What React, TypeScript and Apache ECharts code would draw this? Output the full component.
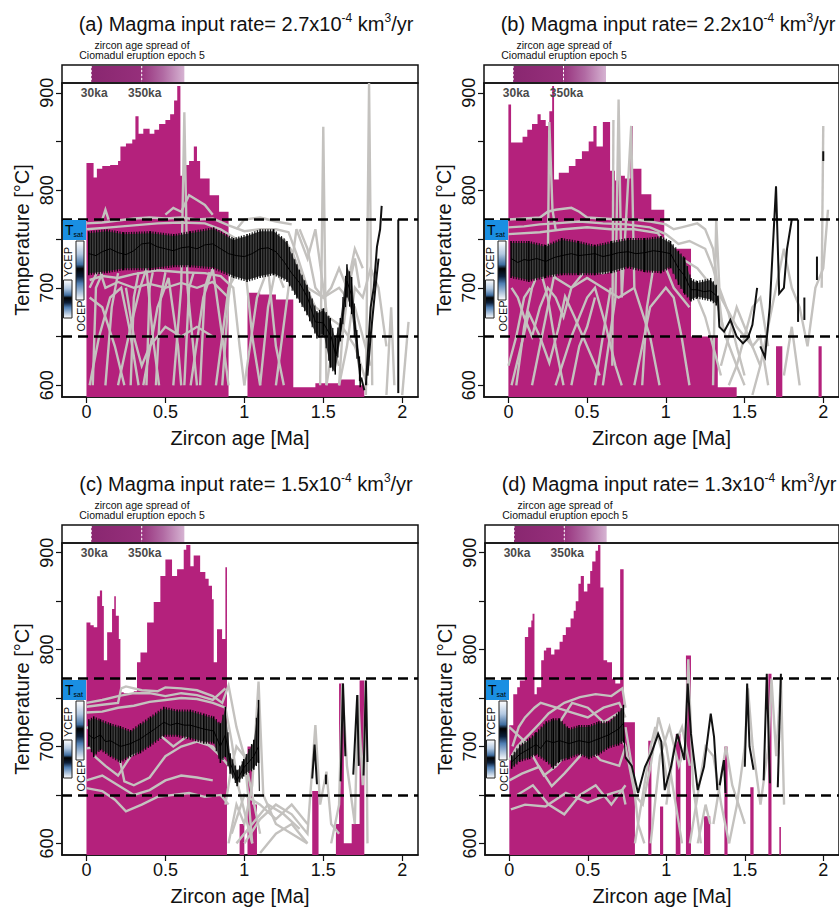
import React, { useEffect, useRef } from 'react';
import * as echarts from 'echarts';

const FONT = 'Liberation Sans, Arial, Helvetica, sans-serif';
const MAGENTA = '#b4217c';
const GRAY = '#c4c2bf';

const panelLetters = ['a', 'b', 'c', 'd'];
const inputRates = ['2.7', '2.2', '1.5', '1.3'];
const xTicks = [0, 0.5, 1, 1.5, 2];
const yTicks = [600, 650, 700, 750, 800, 850, 900];
const yLabels = [600, 700, 800, 900];
const tSatBounds = [650, 770];
const spreadAges = [0.03, 0.35, 0.62];
const spreadLabels = ['30ka', '350ka'];
const X_MIN = -0.155, X_MAX = 2.1, Y_MIN = 588, Y_MAX = 910;

// ---------- panel (a) ----------
const histA = [[0,828],[0.045,813],[0.066,822],[0.1,825],[0.15,826],[0.2,830],[0.215,845],[0.25,848],[0.29,852],[0.31,876],[0.33,858],[0.36,863],[0.4,858],[0.43,862],[0.46,868],[0.5,872],[0.53,878],[0.555,892],[0.575,907],[0.595,815],[0.62,826],[0.65,830],[0.68,845],[0.7,830],[0.72,812],[0.78,795],[0.84,778],[0.9,588],[1.02,695],[1.1,693],[1.2,688],[1.31,598],[1.45,602],[1.6,606],[1.7,600],[1.76,588]];
const errA = [[0.015,715,756],[0.13,717,758],[0.236,720,755],[0.405,720,756],[0.553,723,753],[0.658,723,756],[0.806,721,760],[0.932,712,749],[1.017,708,753],[1.1,712,758],[1.186,715,758],[1.27,708,746],[1.333,691,722],[1.397,674,701],[1.46,650,674],[1.502,653,677],[1.544,620,667],[1.576,613,647],[1.608,647,667],[1.65,692,722],[1.68,675,709],[1.734,600,620]];
const meanA = [[0.015,735],[0.06,733],[0.1,737],[0.15,740],[0.2,736],[0.25,734],[0.3,738],[0.35,745],[0.4,746],[0.45,742],[0.5,740],[0.55,738],[0.6,741],[0.65,742],[0.7,740],[0.75,744],[0.8,745],[0.85,740],[0.9,735],[0.95,733],[1.0,732],[1.05,735],[1.1,740],[1.15,741],[1.2,737],[1.25,727],[1.3,715],[1.35,705],[1.4,690],[1.45,665],[1.5,664],[1.55,650],[1.58,630],[1.61,655],[1.65,707],[1.68,692],[1.71,650],[1.734,610]];
const blackA = [
  [[1.74,608],[1.76,595]],
  [[1.77,600],[1.8,680],[1.82,700],[1.84,742],[1.86,760],[1.87,784]],
  [[1.78,610],[1.8,650],[1.83,700],[1.85,730]],
  [[1.975,592],[1.975,770]],
];
const grayA = [
  [[0,766],[0.1,767],[0.2,769],[0.3,771],[0.4,772],[0.5,771],[0.6,772],[0.7,770],[0.8,771],[0.9,764],[1.0,758],[1.1,760],[1.2,760],[1.28,757],[1.33,735],[1.4,700],[1.5,690],[1.6,700],[1.7,680],[1.8,620]],
  [[0,760],[0.15,762],[0.3,764],[0.45,766],[0.6,767],[0.75,766],[0.85,760],[0.95,750],[1.05,752],[1.15,754],[1.25,750],[1.3,738],[1.38,705],[1.45,680],[1.55,668],[1.62,660],[1.7,640],[1.78,600]],
  [[0.02,708],[0.1,712],[0.2,710],[0.3,714],[0.45,718],[0.6,716],[0.75,715],[0.85,712],[0.93,700],[0.97,640],[1.0,600]],
  [[0.02,700],[0.08,720],[0.12,700],[0.2,706],[0.3,700],[0.4,704],[0.5,700],[0.6,705],[0.7,700],[0.8,706],[0.9,690]],
  [[0.02,600],[0.08,650],[0.15,690],[0.22,700],[0.27,660],[0.33,600]],
  [[0.02,690],[0.1,680],[0.18,640],[0.24,600]],
  [[0.2,600],[0.28,660],[0.34,700],[0.38,720],[0.42,650],[0.46,600]],
  [[0.36,600],[0.45,680],[0.52,710],[0.58,640],[0.6,600]],
  [[0.55,600],[0.6,700],[0.62,880],[0.64,700],[0.7,600]],
  [[0.66,600],[0.74,690],[0.8,720],[0.86,650],[0.9,600]],
  [[0.82,600],[0.9,700],[1.0,730],[1.05,650],[1.1,600]],
  [[1.0,600],[1.08,690],[1.15,720],[1.2,640],[1.25,600]],
  [[1.2,600],[1.28,700],[1.33,760],[1.4,730],[1.45,760],[1.5,700],[1.55,640]],
  [[1.48,600],[1.5,865],[1.52,600]],
  [[1.77,590],[1.79,910],[1.81,600]],
  [[1.6,600],[1.65,640],[1.7,700],[1.75,690],[1.8,720],[1.85,700],[1.9,640]],
  [[1.9,590],[1.93,680],[1.95,600]],
  [[2.0,590],[2.04,665]],
  [[0.1,770],[0.12,780],[0.14,770]],
  [[0.5,775],[0.55,782],[0.6,778],[0.65,795],[0.7,790],[0.75,785],[0.8,775]],
  [[0.04,600],[0.06,700],[0.1,715]],
  [[0.12,600],[0.16,680],[0.2,715]],
  [[0.28,600],[0.3,690],[0.33,716]],
  [[0.38,600],[0.4,700],[0.42,716]],
  [[0.44,600],[0.47,690],[0.5,716]],
  [[0.62,600],[0.65,700],[0.68,716]],
  [[0.72,600],[0.75,700],[0.78,716]],
  [[0.86,600],[0.9,690],[0.92,712]],
  [[0.25,700],[0.3,650],[0.35,620],[0.4,640],[0.5,660],[0.6,650],[0.7,660],[0.8,650]],
  [[0.95,760],[1.0,770],[1.1,772],[1.2,768],[1.3,765]],
  [[1.1,600],[1.15,680],[1.2,720],[1.25,700]],
  [[1.35,760],[1.4,740],[1.45,700],[1.5,690],[1.55,700],[1.6,720],[1.65,700],[1.7,740],[1.75,720]],
  [[1.6,600],[1.62,650],[1.66,700],[1.7,730],[1.73,700]],
  [[1.52,600],[1.56,640],[1.6,620]],
];

// ---------- panel (b) ----------
const histB = [[0,888],[0.017,849],[0.09,855],[0.12,862],[0.15,868],[0.185,878],[0.205,872],[0.237,866],[0.26,881],[0.278,907],[0.29,811],[0.32,818],[0.384,825],[0.426,832],[0.467,840],[0.51,850],[0.54,866],[0.56,845],[0.6,870],[0.646,820],[0.677,810],[0.7,815],[0.74,812],[0.775,866],[0.79,822],[0.845,796],[0.908,780],[0.99,740],[1.16,650],[1.33,598],[1.45,588],[1.7,640],[1.74,588],[1.97,640],[1.99,588]];
const errB = [[0.017,712,746],[0.13,708,746],[0.237,712,742],[0.34,715,749],[0.446,715,746],[0.55,715,742],[0.656,717,746],[0.76,722,749],[0.866,718,749],[0.97,717,751],[1.03,722,746],[1.08,705,736],[1.12,695,729],[1.16,688,708],[1.2,691,705],[1.285,688,708],[1.32,684,701]];
const meanB = [[0.017,730],[0.06,726],[0.1,729],[0.13,728],[0.18,730],[0.237,727],[0.29,731],[0.34,733],[0.4,735],[0.446,733],[0.5,734],[0.55,735],[0.6,732],[0.656,734],[0.7,736],[0.76,737],[0.81,735],[0.866,736],[0.92,738],[0.97,737],[1.03,735],[1.08,720],[1.12,712],[1.16,698],[1.2,698],[1.24,696],[1.285,697],[1.32,692]];
const blackB = [
  [[1.33,692],[1.34,660],[1.37,655],[1.41,667],[1.45,650],[1.49,643],[1.52,648],[1.55,662],[1.58,700]],
  [[1.6,640],[1.63,629],[1.66,680],[1.7,804],[1.72,694],[1.75,700],[1.77,740],[1.8,770]],
  [[1.84,665],[1.84,770]],
  [[1.88,690],[1.88,667]],
  [[1.96,732],[1.96,708]],
  [[2.0,830],[2.0,840]],
];
const grayB = [
  [[0,770],[0.1,771],[0.2,772],[0.25,778],[0.3,780],[0.4,782],[0.45,778],[0.5,772],[0.6,771],[0.7,770],[0.8,770],[0.9,768],[1.0,765],[1.05,760],[1.1,762],[1.2,766],[1.25,760],[1.3,740],[1.33,700],[1.36,660]],
  [[0,762],[0.1,763],[0.2,765],[0.3,766],[0.45,768],[0.6,766],[0.75,765],[0.9,762],[1.0,755],[1.08,745],[1.15,748],[1.25,740],[1.3,720],[1.35,690],[1.45,660],[1.55,640],[1.6,620]],
  [[0,755],[0.2,757],[0.35,760],[0.5,762],[0.65,760],[0.8,760],[0.95,756],[1.0,745],[1.1,730],[1.2,720],[1.3,700],[1.38,650],[1.45,620],[1.5,600]],
  [[0.02,700],[0.06,690],[0.1,670],[0.15,650],[0.2,680],[0.25,700],[0.3,690],[0.35,670],[0.4,700],[0.5,710],[0.6,700],[0.7,690],[0.8,700]],
  [[0.02,600],[0.08,640],[0.13,674],[0.2,650],[0.26,623],[0.32,660],[0.36,691],[0.42,670],[0.5,640],[0.58,610]],
  [[0.05,600],[0.1,660],[0.15,700],[0.2,720],[0.25,690],[0.3,640],[0.35,600]],
  [[0.3,600],[0.4,650],[0.5,690],[0.55,700],[0.62,660],[0.68,620],[0.72,600]],
  [[0.6,600],[0.68,690],[0.7,893],[0.72,690],[0.78,866],[0.8,700],[0.9,650],[0.96,600]],
  [[0.66,620],[0.667,872]],
  [[0.8,600],[0.9,680],[1.0,700],[1.05,690],[1.1,650],[1.15,600]],
  [[1.3,600],[1.32,770],[1.34,700],[1.4,673],[1.45,640],[1.5,610]],
  [[1.35,620],[1.4,650],[1.45,680],[1.5,660],[1.55,640],[1.6,650],[1.65,600]],
  [[1.55,590],[1.6,620],[1.7,700],[1.75,740],[1.8,700],[1.85,680],[1.9,640],[1.95,700],[2.0,720],[2.03,780]],
  [[1.99,700],[2.0,866]],
  [[0.25,720],[0.26,870],[0.28,780],[0.3,760]],
  [[1.75,610],[1.8,660],[1.85,600]],
  [[0.0,620],[0.05,650],[0.1,690],[0.14,700]],
  [[0.15,600],[0.2,640],[0.25,680],[0.3,720]],
  [[0.4,600],[0.45,640],[0.5,660],[0.55,690]],
  [[0.55,600],[0.6,650],[0.65,700]],
  [[0.85,600],[0.88,680],[0.92,720]],
  [[0.1,720],[0.2,730],[0.3,710],[0.4,700],[0.5,720],[0.6,715],[0.7,720],[0.8,730],[0.9,725]],
  [[1.0,720],[1.05,700],[1.1,690],[1.15,680]],
  [[1.15,700],[1.2,690],[1.25,670],[1.3,640],[1.35,610]],
  [[1.4,600],[1.45,620],[1.5,650],[1.55,680],[1.6,690],[1.65,640]],
];

// ---------- panel (c) ----------
const histC = [[0,828],[0.025,825],[0.046,823],[0.068,855],[0.085,861],[0.099,845],[0.11,789],[0.131,818],[0.162,842],[0.176,855],[0.186,835],[0.205,811],[0.215,756],[0.236,755],[0.3,757],[0.32,787],[0.342,797],[0.384,828],[0.426,849],[0.468,876],[0.5,893],[0.542,876],[0.574,883],[0.616,903],[0.632,908],[0.658,886],[0.679,897],[0.72,880],[0.753,873],[0.774,866],[0.795,852],[0.806,787],[0.827,821],[0.859,811],[0.88,885],[0.89,588],[0.97,620],[1.0,588],[1.02,700],[1.05,640],[1.08,588],[1.43,654],[1.47,588],[1.58,620],[1.6,765],[1.63,600],[1.68,620],[1.73,768],[1.76,588]];
const errC = [[0.015,702,726],[0.046,691,729],[0.089,698,726],[0.152,691,722],[0.215,685,719],[0.28,691,715],[0.342,695,722],[0.405,702,729],[0.49,712,739],[0.574,712,736],[0.658,709,736],[0.743,705,732],[0.806,705,729],[0.848,685,722],[0.88,691,739],[0.91,674,691],[0.954,661,674],[0.996,671,685],[1.06,678,705],[1.09,685,746]];
const meanC = [[0.015,712],[0.046,708],[0.089,712],[0.12,705],[0.152,706],[0.215,700],[0.28,703],[0.342,708],[0.405,715],[0.45,720],[0.49,725],[0.53,722],[0.574,724],[0.62,722],[0.658,722],[0.7,720],[0.743,718],[0.806,716],[0.848,700],[0.88,712],[0.91,683],[0.954,665],[0.996,678],[1.06,690],[1.09,700],[1.095,654]];
const blackC = [
  [[1.43,667],[1.445,702],[1.46,661]],
  [[1.517,671],[1.517,661]],
  [[1.61,664],[1.625,765],[1.64,690]],
  [[1.69,671],[1.715,753],[1.725,680]],
  [[1.755,670],[1.77,768],[1.78,684]],
];
const grayC = [
  [[0,741],[0.1,743],[0.2,745],[0.22,760],[0.25,762],[0.35,758],[0.45,757],[0.5,761],[0.6,760],[0.7,758],[0.8,752],[0.86,745],[0.9,763],[0.95,720],[1.0,690],[1.03,640],[1.05,600]],
  [[0,735],[0.1,736],[0.2,740],[0.3,742],[0.4,746],[0.5,748],[0.6,750],[0.7,749],[0.8,745],[0.88,740],[0.92,705],[0.96,660],[1.0,633],[1.05,600]],
  [[0,698],[0.1,700],[0.2,695],[0.24,664],[0.3,660],[0.4,668],[0.5,690],[0.6,700],[0.7,705],[0.8,700],[0.85,690],[0.9,680]],
  [[0,657],[0.1,654],[0.18,645],[0.25,633],[0.35,640],[0.45,648],[0.55,650],[0.65,652],[0.75,648],[0.85,650],[0.9,640]],
  [[0,720],[0.08,712],[0.15,705],[0.22,690],[0.3,700],[0.4,710],[0.5,718],[0.6,722],[0.7,718],[0.8,712],[0.88,700]],
  [[0.05,690],[0.12,680],[0.2,670],[0.28,690],[0.36,700],[0.44,715],[0.55,700],[0.65,712],[0.75,705],[0.85,690]],
  [[0.9,600],[0.95,640],[1.0,620],[1.05,660],[1.09,767],[1.12,650],[1.2,620],[1.3,610],[1.4,600]],
  [[1.0,600],[1.1,625],[1.2,640],[1.3,630],[1.4,610],[1.45,722],[1.48,640],[1.52,674],[1.55,620],[1.6,610]],
  [[1.1,590],[1.2,610],[1.3,620],[1.4,600]],
  [[1.55,600],[1.6,640],[1.62,765],[1.65,680],[1.7,620],[1.72,753],[1.75,660],[1.77,768],[1.78,600]],
  [[0.88,640],[0.92,680],[0.95,700],[1.0,690],[1.05,650],[1.1,610]],
  [[0,745],[0.1,748],[0.2,752],[0.3,755],[0.4,755],[0.5,752],[0.6,755],[0.7,753],[0.8,748],[0.88,760]],
  [[0,665],[0.1,670],[0.2,660],[0.3,650],[0.4,655],[0.5,665],[0.6,670],[0.7,668],[0.8,665]],
  [[0.95,600],[1.05,620],[1.15,640],[1.25,630],[1.35,615]],
  [[0.92,610],[1.0,650],[1.1,640],[1.2,625],[1.3,640],[1.4,620]],
];

// ---------- panel (d) ----------
const histD = [[0,722],[0.025,754],[0.05,761],[0.067,768],[0.099,813],[0.12,823],[0.14,830],[0.148,837],[0.16,754],[0.175,761],[0.203,789],[0.22,799],[0.235,802],[0.266,795],[0.287,800],[0.32,808],[0.34,815],[0.36,823],[0.39,832],[0.41,840],[0.423,850],[0.44,868],[0.455,876],[0.475,860],[0.497,868],[0.515,881],[0.528,891],[0.549,902],[0.565,908],[0.58,864],[0.6,789],[0.623,787],[0.654,770],[0.675,765],[0.706,883],[0.728,725],[0.8,588],[0.885,706],[0.905,588],[0.96,638],[0.98,588],[1.06,713],[1.09,588],[1.125,794],[1.157,588],[1.24,628],[1.28,588],[1.37,700],[1.39,588],[1.535,658],[1.556,588],[1.65,775],[1.67,588],[1.72,617],[1.73,588]];
const errD = [[0.015,679,689],[0.067,686,700],[0.13,689,707],[0.17,693,713],[0.235,686,724],[0.28,679,727],[0.32,686,727],[0.38,689,717],[0.444,693,720],[0.507,689,720],[0.57,693,724],[0.633,700,724],[0.696,703,734],[0.727,706,741]];
const meanD = [[0.015,684],[0.067,692],[0.13,698],[0.17,702],[0.2,698],[0.235,706],[0.28,704],[0.32,706],[0.38,703],[0.444,706],[0.507,704],[0.57,708],[0.633,712],[0.696,718],[0.727,724],[0.738,689]];
const blackD = [
  [[0.738,689],[0.78,680],[0.82,652],[0.864,679],[0.905,693],[0.948,713],[0.968,705],[0.99,655],[1.03,679],[1.07,713],[1.115,686],[1.136,765],[1.157,713],[1.2,655],[1.24,679],[1.283,734],[1.304,710],[1.325,655]],
  [[1.34,660],[1.367,686],[1.377,652]],
  [[1.5,679],[1.515,765],[1.53,700],[1.556,676]],
  [[1.62,665],[1.64,775],[1.66,662]],
  [[1.71,658],[1.73,775]],
];
const grayD = [
  [[0,686],[0.05,700],[0.13,713],[0.2,725],[0.25,734],[0.35,745],[0.45,751],[0.55,754],[0.65,752],[0.72,760],[0.74,740]],
  [[0,665],[0.08,672],[0.19,679],[0.27,659],[0.35,672],[0.45,690],[0.5,700],[0.58,686],[0.7,680],[0.74,700]],
  [[0.01,635],[0.1,640],[0.23,638],[0.36,652],[0.5,642],[0.62,650],[0.72,655],[0.74,640]],
  [[0.02,700],[0.06,720],[0.1,730],[0.16,740],[0.2,745],[0.3,740],[0.4,735],[0.5,730],[0.6,740],[0.7,745],[0.74,730]],
  [[0.02,690],[0.08,705],[0.15,690],[0.22,670],[0.3,680],[0.4,700],[0.48,710],[0.56,700],[0.64,720],[0.7,715],[0.74,700]],
  [[0.74,720],[0.78,680],[0.82,620],[0.86,600]],
  [[0.74,700],[0.8,650],[0.85,640],[0.9,680],[0.95,730],[1.0,700],[1.05,650],[1.1,600]],
  [[0.9,600],[0.96,690],[1.02,720],[1.08,680],[1.12,700],[1.14,790],[1.17,660],[1.22,600]],
  [[1.15,600],[1.2,650],[1.25,700],[1.3,690],[1.35,640],[1.4,600]],
  [[1.4,600],[1.45,640],[1.5,700],[1.52,760],[1.55,700],[1.6,640],[1.65,700],[1.67,770],[1.7,690],[1.73,770],[1.75,640]],
  [[1.3,620],[1.38,700],[1.42,660],[1.5,620]],
  [[0.0,720],[0.1,705],[0.2,700],[0.3,720],[0.4,745],[0.5,740],[0.6,725],[0.7,735]],
  [[0.05,650],[0.15,660],[0.25,640],[0.35,630],[0.45,650],[0.55,660],[0.65,640],[0.74,660]],
  [[0.8,600],[0.85,650],[0.9,700],[0.93,720],[0.98,690],[1.02,650]],
  [[1.2,600],[1.25,640],[1.28,620]],
  [[1.0,640],[1.05,700],[1.1,720],[1.15,680]],
];

const hists = [histA, histB, histC, histD];
const errs = [errA, errB, errC, errD];
const means = [meanA, meanB, meanC, meanD];
const blacks = [blackA, blackB, blackC, blackD];
const grays = [grayA, grayB, grayC, grayD];

// layout (pixels)
const layout = [
  { left: 62, top: 83 },
  { left: 484, top: 83 },
  { left: 62, top: 543 },
  { left: 485, top: 543 },
];
const GRID_W = 356, GRID_H = 314, STRIP_H = 18;

function buildOption() {
  const grid: any[] = [];
  const xAxis: any[] = [];
  const yAxis: any[] = [];
  const series: any[] = [];
  const graphic: any[] = [];

  layout.forEach((p, i) => {
    grid.push({ left: p.left, top: p.top, width: GRID_W, height: GRID_H, show: true, borderColor: '#111', borderWidth: 1.5, backgroundColor: 'rgba(0,0,0,0)' });
    grid.push({ left: p.left, top: p.top - STRIP_H, width: GRID_W, height: STRIP_H, show: true, borderColor: '#111', borderWidth: 1.5, backgroundColor: 'rgba(0,0,0,0)' });
    const gm = 2 * i, gs = 2 * i + 1;
    xAxis.push({
      gridIndex: gm, type: 'value', min: X_MIN, max: X_MAX,
      axisLine: { show: true, onZero: false, lineStyle: { color: '#111', width: 1.5 } },
      axisTick: { show: true, customValues: xTicks, length: 6, lineStyle: { color: '#111', width: 1.2 } },
      axisLabel: { show: true, customValues: xTicks, fontSize: 18, color: '#111', margin: 6, fontFamily: FONT, formatter: (v: number) => String(v) },
      splitLine: { show: false },
      name: 'Zircon age [Ma]', nameLocation: 'middle', nameGap: 31,
      nameTextStyle: { fontSize: 20, color: '#111', fontFamily: FONT },
    });
    xAxis.push({ gridIndex: gs, type: 'value', min: X_MIN, max: X_MAX, show: false });
    yAxis.push({
      gridIndex: gm, type: 'value', min: Y_MIN, max: Y_MAX,
      axisLine: { show: true, onZero: false, lineStyle: { color: '#111', width: 1.5 } },
      axisTick: { show: true, customValues: yTicks, length: 6, lineStyle: { color: '#111', width: 1.2 } },
      axisLabel: { show: true, customValues: yLabels, rotate: 90, fontSize: 18, color: '#111', margin: 6, fontFamily: FONT },
      splitLine: { show: false },
      name: 'Temperature [°C]', nameLocation: 'middle', nameGap: 30,
      nameTextStyle: { fontSize: 20, color: '#111', fontFamily: FONT },
    });
    yAxis.push({ gridIndex: gs, type: 'value', min: 0, max: 1, show: false });

    // histogram
    series.push({
      type: 'line', xAxisIndex: gm, yAxisIndex: gm, data: hists[i], step: 'end',
      symbol: 'none', lineStyle: { width: 0 }, areaStyle: { color: MAGENTA, opacity: 1, origin: 'start' },
      z: 1, silent: true,
    });
    // gray model paths
    series.push({
      type: 'lines', coordinateSystem: 'cartesian2d', xAxisIndex: gm, yAxisIndex: gm, polyline: true,
      data: grays[i].map((c) => ({ coords: c })),
      lineStyle: { color: GRAY, width: 2.4, opacity: 1 }, z: 2, silent: true,
    });
    // black error band
    const err = errs[i];
    series.push({
      type: 'custom', xAxisIndex: gm, yAxisIndex: gm, data: err, encode: { x: 0, y: [1, 2] }, z: 3, silent: true,
      renderItem: (params: any, api: any) => {
        const k = params.dataIndex;
        const cur = err[k];
        const nxt = err[k + 1];
        const children: any[] = [];
        const a0 = api.coord([cur[0], cur[1]]);
        const b0 = api.coord([cur[0], cur[2]]);
        if (nxt && nxt[0] - cur[0] < 0.2) {
          const a1 = api.coord([nxt[0], nxt[1]]);
          const b1 = api.coord([nxt[0], nxt[2]]);
          children.push({ type: 'polygon', shape: { points: [a0, b0, b1, a1] }, style: { fill: '#404040' } });
          const span = a1[0] - a0[0];
          for (let px = a0[0] + 2.6; px < a1[0] - 0.5; px += 2.6) {
            const t = (px - a0[0]) / span;
            const ylo = a0[1] + t * (a1[1] - a0[1]);
            const yhi = b0[1] + t * (b1[1] - b0[1]);
            children.push({ type: 'line', shape: { x1: px, y1: ylo + 2, x2: px, y2: yhi - 2 }, style: { stroke: '#0c0c0c', lineWidth: 1.2 } });
          }
        }
        children.push({ type: 'line', shape: { x1: a0[0], y1: a0[1] + 2, x2: b0[0], y2: b0[1] - 2 }, style: { stroke: '#000', lineWidth: 1.5 } });
        return { type: 'group', children };
      },
    });
    // mean line + dashed saturation bounds
    series.push({
      type: 'line', xAxisIndex: gm, yAxisIndex: gm, data: means[i], symbol: 'none',
      lineStyle: { color: '#000', width: 1 }, z: 5, silent: true,
      markLine: {
        silent: true, symbol: ['none', 'none'], label: { show: false },
        lineStyle: { type: [10, 6], color: '#000', width: 2.5 },
        data: tSatBounds.map((v) => ({ yAxis: v })),
      },
    });
    // black right-hand paths
    series.push({
      type: 'lines', coordinateSystem: 'cartesian2d', xAxisIndex: gm, yAxisIndex: gm, polyline: true,
      data: blacks[i].map((c) => ({ coords: c })),
      lineStyle: { color: '#111', width: 2, opacity: 1 }, z: 4, silent: true,
    });
    // ka labels
    series.push({
      type: 'custom', xAxisIndex: gm, yAxisIndex: gm, data: spreadAges.slice(0, 2).map((v) => [v, Y_MAX]), encode: { x: 0, y: 1 }, z: 6, silent: true, clip: false,
      renderItem: (params: any, api: any) => {
        const pt = api.coord([api.value(0), api.value(1)]);
        return {
          type: 'text', x: pt[0] + 3, y: pt[1] + 10,
          style: { text: spreadLabels[params.dataIndex], fill: '#4a4a4a', fontSize: 12, fontWeight: 'bold', fontFamily: FONT, align: 'center', verticalAlign: 'middle' },
        };
      },
    });
    // strip: zircon age spread
    series.push({
      type: 'custom', xAxisIndex: gs, yAxisIndex: gs, data: [spreadAges], encode: { x: [0, 1, 2] }, z: 2, silent: true,
      renderItem: (params: any, api: any) => {
        const p0 = api.coord([api.value(0), 1]);
        const p1 = api.coord([api.value(1), 0]);
        const p2 = api.coord([api.value(2), 0]);
        const top = p0[1] + 1, h = p1[1] - p0[1] - 2;
        return {
          type: 'group', children: [
            { type: 'rect', shape: { x: p0[0], y: top, width: p1[0] - p0[0], height: h },
              style: { fill: { type: 'linear', x: 0, y: 0, x2: 1, y2: 0, colorStops: [{ offset: 0, color: '#892770' }, { offset: 1, color: '#962f7b' }] } } },
            { type: 'rect', shape: { x: p1[0], y: top, width: p2[0] - p1[0], height: h },
              style: { fill: { type: 'linear', x: 0, y: 0, x2: 1, y2: 0, colorStops: [{ offset: 0, color: '#98337e' }, { offset: 0.5, color: '#b16aa3' }, { offset: 1, color: '#d6b3d2' }] } } },
            { type: 'line', shape: { x1: p0[0], y1: top, x2: p0[0], y2: top + h }, style: { stroke: '#fff', lineWidth: 1, lineDash: [2, 2] } },
            { type: 'line', shape: { x1: p1[0], y1: top, x2: p1[0], y2: top + h }, style: { stroke: '#fff', lineWidth: 1, lineDash: [2, 2] } },
          ],
        };
      },
    });

    // titles and annotations
    const L = p.left, T = p.top;
    graphic.push({
      type: 'text', x: L + 184, y: T - 59, z: 10,
      style: {
        text: `{m|(${panelLetters[i]}) Magma input rate= ${inputRates[i]}x10}{s|-4}{m| km}{s|3}{m|/yr}`,
        rich: {
          m: { fontSize: 20, fill: '#111', fontFamily: FONT, lineHeight: 24 },
          s: { fontSize: 12, fill: '#111', fontFamily: FONT, lineHeight: 12, verticalAlign: 'top' },
        },
        align: 'center', verticalAlign: 'middle',
      },
    });
    graphic.push({
      type: 'text', x: L + 80, y: T - 33, z: 10,
      style: { text: 'zircon age spread of\nCiomadul eruption epoch 5', fontSize: 10.5, lineHeight: 10.5, fill: '#111', fontFamily: FONT, align: 'center', verticalAlign: 'middle' },
    });
    // T_sat box
    graphic.push({ type: 'rect', z: 10, shape: { x: L + 1, y: T + 137, width: 23, height: 20 }, style: { fill: '#1a8fe2' } });
    graphic.push({
      type: 'text', x: L + 12, y: T + 147, z: 11,
      style: {
        text: '{t|T}{s|sat}', align: 'center', verticalAlign: 'middle',
        rich: { t: { fontSize: 14, fill: '#000', fontFamily: FONT, lineHeight: 16 }, s: { fontSize: 7, fill: '#000', fontFamily: FONT, lineHeight: 8, verticalAlign: 'bottom' } },
      },
    });
    const barFill = { type: 'linear', x: 0, y: 0, x2: 0, y2: 1, colorStops: [
      { offset: 0, color: '#ffffff' }, { offset: 0.22, color: '#b3c9e2' }, { offset: 0.4, color: '#3f6d9f' },
      { offset: 0.47, color: '#000000' }, { offset: 0.6, color: '#0c1f3a' }, { offset: 0.72, color: '#4f7eb3' }, { offset: 1, color: '#ffffff' } ] };
    graphic.push({ type: 'rect', z: 10, shape: { x: L + 14, y: T + 158, width: 8, height: 59 }, style: { fill: barFill, stroke: '#222', lineWidth: 1 } });
    graphic.push({ type: 'rect', z: 10, shape: { x: L + 1.5, y: T + 197, width: 8.5, height: 38 }, style: { fill: barFill, stroke: '#222', lineWidth: 1 } });
    graphic.push({ type: 'text', z: 10, x: L + 6, y: T + 179, rotation: Math.PI / 2, style: { text: 'YCEP', fontSize: 11, fill: '#111', fontFamily: FONT, align: 'center', verticalAlign: 'middle' } });
    graphic.push({ type: 'text', z: 10, x: L + 19, y: T + 233, rotation: Math.PI / 2, style: { text: 'OCEP', fontSize: 11, fill: '#111', fontFamily: FONT, align: 'center', verticalAlign: 'middle' } });
  });

  return {
    animation: false,
    backgroundColor: '#ffffff',
    textStyle: { fontFamily: FONT },
    grid, xAxis, yAxis, series, graphic,
  };
}

export default function App() {
  const ref = useRef<HTMLDivElement | null>(null);
  useEffect(() => {
    document.body.style.margin = '0';
    if (!ref.current) return;
    const chart = echarts.init(ref.current, undefined, { renderer: 'svg' });
    chart.setOption(buildOption() as any);
    return () => chart.dispose();
  }, []);
  return <div ref={ref} style={{ width: 839, height: 907, overflow: 'hidden' }} />;
}
